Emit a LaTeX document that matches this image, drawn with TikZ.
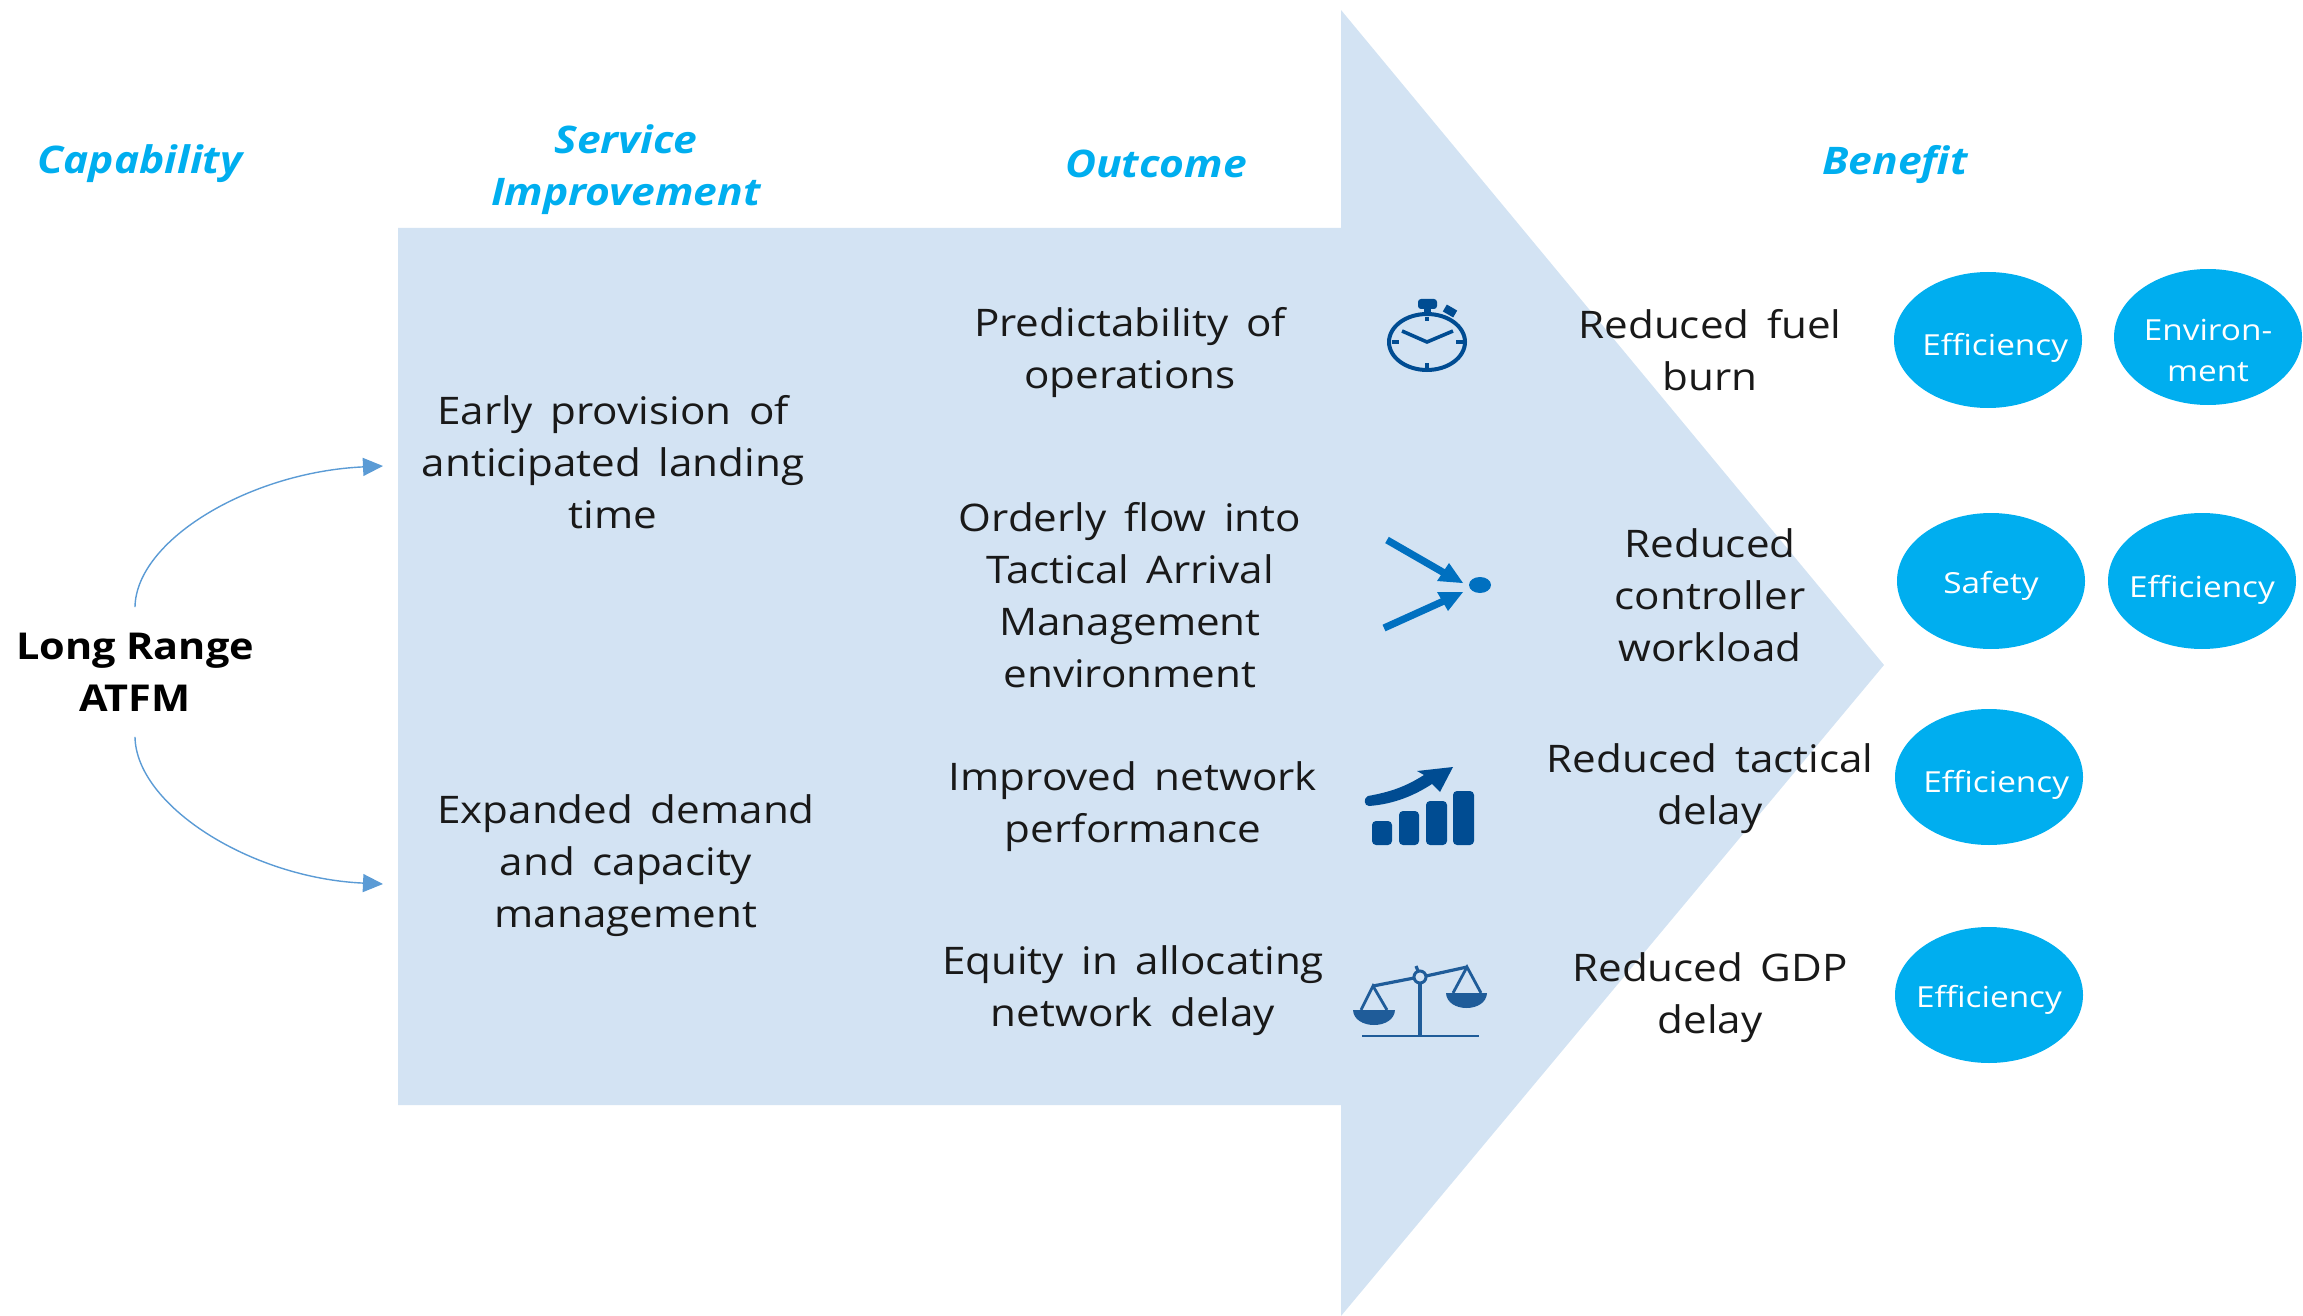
\documentclass[tikz,border=0pt]{standalone}
\usepackage{fontspec}
\setmainfont{Open Sans}
\newfontfamily\bodyfont[FakeStretch=1.11,WordSpace=1.6]{Open Sans}
\newfontfamily\headfont[FakeStretch=1.12]{Open Sans}
\newfontfamily\ovalfont[FakeStretch=1.15]{Open Sans}
\usetikzlibrary{shapes.geometric,arrows.meta}
\definecolor{arrowfill}{RGB}{211,227,243}
\definecolor{headblue}{RGB}{0,174,239}
\definecolor{iconnavy}{RGB}{0,76,146}
\definecolor{iconblue}{RGB}{0,112,192}
\definecolor{scaleblue}{RGB}{31,92,153}
\definecolor{linkblue}{RGB}{91,155,213}
\tikzset{
  headtext/.style={font=\headfont\fontsize{19}{26}\selectfont\bfseries\itshape,color=headblue,align=center},
  bodytext/.style={font=\bodyfont\fontsize{19}{26}\selectfont,align=center,color=black!90},
  benefit/.style={ellipse,fill=headblue,minimum width=94pt,minimum height=68pt,inner sep=0pt},
  ovaltext/.style={text=white,align=center,font=\ovalfont\fontsize{14.5}{20.5}\selectfont},
  link/.style={color=linkblue,line width=0.7pt,-{Triangle[length=10pt,width=9pt]}},
}
\begin{document}
\begin{tikzpicture}[x=0.5pt,y=0.5pt,yscale=-1,xscale=1]
\useasboundingbox (0,0) rectangle (2303,1316);

% Big arrow
\fill [arrowfill] (398,228) -- (1341,228) -- (1341,10) -- (1884,665) -- (1341,1316) -- (1341,1105) -- (398,1105) -- cycle;

% Text Node
\node [headtext] (capability) at (140,164) {Capability};
\node [headtext] (service) at (626,170) {Service\\Improvement};
\node [headtext] (outcome) at (1156,164) {Outcome};
\node [headtext] (benefit) at (1895,165) {Benefit};

\node [font=\headfont\fontsize{18.5}{26}\selectfont\bfseries,align=center,minimum height=64.5pt,minimum width=10pt,inner sep=0pt] (atfm) at (135,672) {Long Range\\ATFM};

\node [bodytext] (early) at (613,462) {Early provision of\\anticipated landing\\time};
\node [bodytext] (expanded) at (626,866) {Expanded demand\\and capacity\\management};

\node [bodytext] (predict) at (1130,353) {Predictability of\\operations};
\node [bodytext] (orderly) at (1130,595) {Orderly flow into\\Tactical Arrival\\Management\\environment};
\node [bodytext] (improved) at (1133,807) {Improved network\\performance};
\node [bodytext] (equity) at (1133,991) {Equity in allocating\\network delay};

\node [bodytext] (fuel) at (1710,350) {Reduced fuel\\burn};
\node [bodytext] (workload) at (1710,595) {Reduced\\controller\\workload};
\node [bodytext] (tactical) at (1710,789) {Reduced tactical\\delay};
\node [bodytext] (gdp) at (1710,998) {Reduced GDP\\delay};

% Ellipses
\node [benefit,label={[ovaltext,xshift=3.6pt,yshift=-3.7pt]center:Efficiency}] (eff1) at (1988,340) {};
\node [benefit,label={[ovaltext,yshift=-6.6pt]center:{Environ-\\ment}}] (env1) at (2208,337) {};
\node [benefit,label={[ovaltext,yshift=-2.2pt]center:Safety}] (safe2) at (1991,581) {};
\node [benefit,label={[ovaltext,yshift=-4.4pt]center:Efficiency}] (eff2) at (2202,581) {};
\node [benefit,label={[ovaltext,xshift=3.6pt,yshift=-3.7pt]center:Efficiency}] (eff3) at (1989,777) {};
\node [benefit,label={[ovaltext,yshift=-2.2pt]center:Efficiency}] (eff4) at (1989,995) {};

% Curved links
\coordinate (uptip) at (383,466);
\coordinate (lowtip) at (383,884);
\draw [link] (atfm.north) .. controls (136,540) and (250,472) .. (uptip);
\draw [link] (atfm.south) .. controls (136,805) and (250,878) .. (lowtip);

% Stopwatch
\draw [iconnavy,line width=2pt] (1427,342) ellipse (38 and 28);
\fill [iconnavy,rounded corners=1.5pt] (1418,299) rectangle (1437,309);
\fill [iconnavy] (1424,309) rectangle (1431,314);
\fill [iconnavy,rotate around={30:(1450,311)}] (1444,307) rectangle (1456,315);
\draw [iconnavy,line width=1.8pt] (1402,331) -- (1427,342) -- (1453,331);
\draw [iconnavy,line width=1.8pt] (1427,317) -- (1427,321) (1427,363) -- (1427,368) (1392,342) -- (1399,342) (1456,342) -- (1463,342);

% Merging arrows
\draw [iconblue,line width=3.6pt] (1387,540) -- (1446,574);
\fill [iconblue] (1463,583) -- (1437,581) -- (1449,563) -- cycle;
\draw [iconblue,line width=3.6pt] (1384,628) -- (1446,600);
\fill [iconblue] (1463,592) -- (1437,592) -- (1448,611) -- cycle;
\fill [iconblue] (1480,585) ellipse (11 and 8);

% Bar chart
\fill [iconnavy,rounded corners=2pt] (1372,821) rectangle (1392,845);
\fill [iconnavy,rounded corners=2pt] (1399,811) rectangle (1419,845);
\fill [iconnavy,rounded corners=2pt] (1426,801) rectangle (1447,845);
\fill [iconnavy,rounded corners=2pt] (1453,791) rectangle (1474,845);
\fill [iconnavy] (1453,767) -- (1417,771) -- (1424,775) .. controls (1405,787) and (1390,792) .. (1368,796) .. controls (1363,798) and (1364,806) .. (1369,806) .. controls (1395,804) and (1415,795) .. (1432,784) -- (1440,792) -- cycle;

% Scales
\draw [scaleblue,line width=1.3pt] (1362,1036) -- (1479,1036);
\draw [scaleblue,line width=1.6pt] (1420,983) -- (1420,1036);
\draw [scaleblue,line width=1.6pt] (1373,986) -- (1414,978) (1426,976) -- (1467,967) (1416,966) -- (1418,971);
\draw [scaleblue,line width=1.5pt] (1420,977) circle (6);
\draw [scaleblue,line width=1.4pt] (1361,1010) -- (1373,986) -- (1387,1010) (1453,993) -- (1467,967) -- (1481,993);
\fill [scaleblue] (1353,1010) -- (1395,1010) .. controls (1394,1030) and (1354,1030) .. cycle;
\fill [scaleblue] (1446,993) -- (1487,993) .. controls (1486,1013) and (1447,1013) .. cycle;
\end{tikzpicture}
\end{document}
